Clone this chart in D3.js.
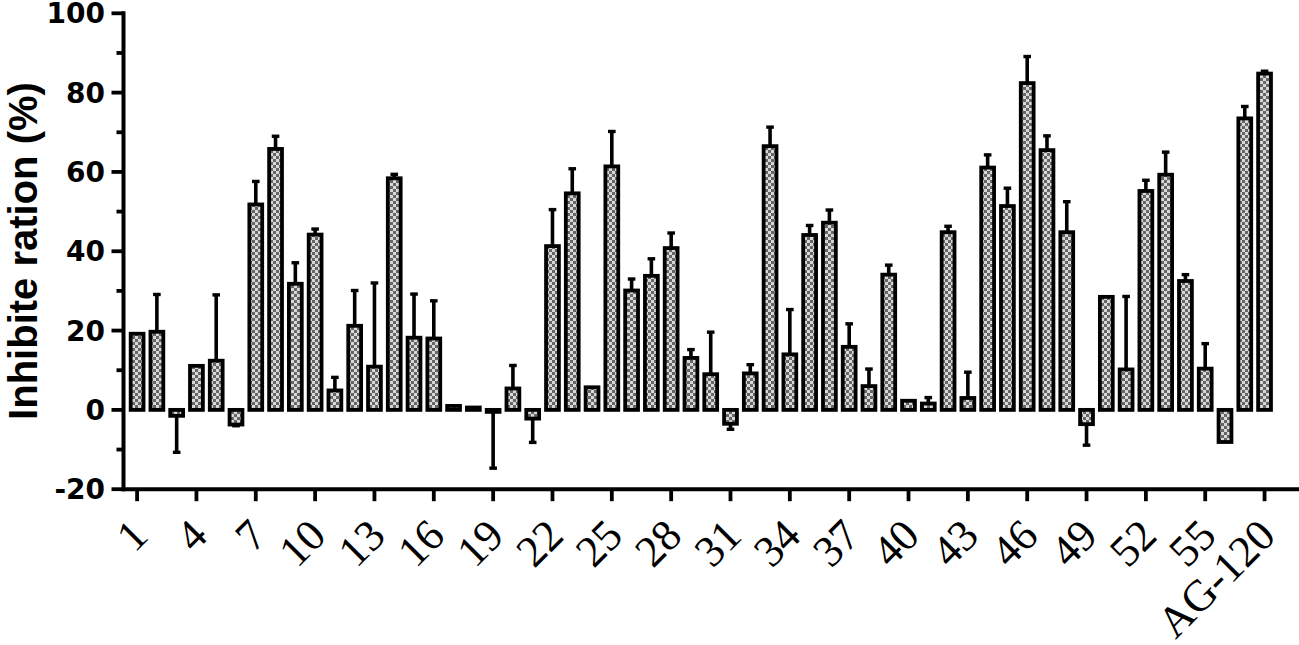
<!DOCTYPE html>
<html>
<head>
<meta charset="utf-8">
<script src="https://cdn.jsdelivr.net/npm/d3@7"></script>
<style>
  html, body { margin: 0; padding: 0; background: #fff; }
  svg { display: block; }
</style>
</head>
<body>
<svg id="chart" width="1299" height="645"></svg>
<script>
// ---- data ----
const categories = [
  "1","2","3","4","5","6","7","8","9","10",
  "11","12","13","14","15","16","17","18","19","20",
  "21","22","23","24","25","26","27","28","29","30",
  "31","32","33","34","35","36","37","38","39","40",
  "41","42","43","44","45","46","47","48","49","50",
  "51","52","53","54","55","56","57","AG-120"
];
const values = [
  19.2, 19.7, -1.5, 11.1, 12.4, -3.7, 51.8, 65.8, 31.8, 44.2,
  4.9, 21.2, 10.9, 58.4, 18.2, 18.0, 1.0, 0.6, -0.5, 5.4,
  -2.2, 41.3, 54.6, 5.7, 61.4, 30.1, 33.8, 40.8, 13.1, 9.0,
  -3.5, 9.2, 66.5, 14.0, 44.1, 47.2, 15.9, 6.0, 34.1, 2.3,
  1.6, 44.8, 3.0, 61.1, 51.4, 82.4, 65.5, 44.8, -3.6, 28.5,
  10.2, 55.2, 59.3, 32.5, 10.4, -8.1, 73.5, 84.8
];
const errors = [
  0, 9.4, 9.2, 0, 16.6, 0.3, 5.8, 3.2, 5.3, 1.4,
  3.3, 8.9, 21.1, 1.0, 11.0, 9.5, 0, 0, 14.2, 5.8,
  6.0, 9.2, 6.2, 0, 8.8, 2.9, 4.3, 3.8, 2.1, 10.6,
  1.4, 2.2, 4.8, 11.3, 2.4, 3.2, 5.8, 4.3, 2.4, 0,
  1.5, 1.5, 6.5, 3.2, 4.5, 6.7, 3.6, 7.7, 5.3, 0,
  18.4, 2.7, 5.7, 1.6, 6.3, 0, 3.0, 0.6
];
const tickLabels = ["1","4","7","10","13","16","19","22","25","28","31","34","37","40","43","46","49","52","55","AG-120"];
const yTicksMajor = [-20, 0, 20, 40, 60, 80, 100];
const yTicksMinor = [-10, 10, 30, 50, 70, 90];
const yTitle = "Inhibite ration (%)";

// ---- layout ----
const svg = d3.select("#chart");
const axisX = 123.5;     // y-axis line position
const step = 19.78;
const bandStart = 137.1 - step / 2;

const x = d3.scaleBand()
  .domain(categories)
  .range([bandStart, bandStart + step * categories.length])
  .paddingInner(0.35)
  .paddingOuter(0.175);

const y = d3.scaleLinear().domain([-20, 100]).range([489.2, 13.3]);

// pattern
const defs = svg.append("defs");
const pat = defs.append("pattern")
  .attr("id", "chk").attr("patternUnits", "userSpaceOnUse")
  .attr("width", 6).attr("height", 6);
pat.append("rect").attr("width", 6).attr("height", 6).attr("fill", "#d8d8d8");
pat.append("rect").attr("x", 0).attr("y", 0).attr("width", 3).attr("height", 3).attr("fill", "#666");
pat.append("rect").attr("x", 3).attr("y", 3).attr("width", 3).attr("height", 3).attr("fill", "#666");

const data = categories.map((c, i) => ({ c, v: values[i], e: errors[i] }));

// bars
svg.append("g").selectAll("rect").data(data).join("rect")
  .attr("x", d => x(d.c))
  .attr("width", x.bandwidth())
  .attr("y", d => y(Math.max(0, d.v)))
  .attr("height", d => Math.max(0.5, Math.abs(y(d.v) - y(0))))
  .attr("fill", "url(#chk)")
  .attr("stroke", "#000")
  .attr("stroke-width", 3.8);

// error bars
const eg = svg.append("g");
data.filter(d => d.e > 0).forEach(d => {
  const cx = x(d.c) + x.bandwidth() / 2;
  const end = d.v >= 0 ? d.v + d.e : d.v - d.e;
  eg.append("line")
    .attr("x1", cx).attr("x2", cx)
    .attr("y1", y(d.v)).attr("y2", y(end))
    .attr("stroke", "#000").attr("stroke-width", 3.6);
  eg.append("line")
    .attr("x1", cx - 3.8).attr("x2", cx + 3.8)
    .attr("y1", y(end)).attr("y2", y(end))
    .attr("stroke", "#000").attr("stroke-width", 3.4);
});

// y axis
const ya = svg.append("g");
ya.append("line").attr("x1", axisX).attr("x2", axisX)
  .attr("y1", y(100) - 2).attr("y2", y(-20) + 2)
  .attr("stroke", "#000").attr("stroke-width", 4);
ya.selectAll("line.maj").data(yTicksMajor).join("line").attr("class", "maj")
  .attr("x1", axisX - 12).attr("x2", axisX)
  .attr("y1", d => y(d)).attr("y2", d => y(d))
  .attr("stroke", "#000").attr("stroke-width", 3.8);
ya.selectAll("line.min").data(yTicksMinor).join("line").attr("class", "min")
  .attr("x1", axisX - 7).attr("x2", axisX)
  .attr("y1", d => y(d)).attr("y2", d => y(d))
  .attr("stroke", "#000").attr("stroke-width", 3.8);
ya.selectAll("text").data(yTicksMajor).join("text")
  .attr("x", 105).attr("y", d => y(d))
  .attr("dy", "0.36em")
  .attr("text-anchor", "end")
  .attr("font-family", "DejaVu Sans")
  .attr("font-weight", "bold")
  .attr("font-size", 28)
  .text(d => d);

// y title
svg.append("text")
  .attr("transform", "translate(37,251) rotate(-90)")
  .attr("text-anchor", "middle")
  .attr("font-family", "Liberation Sans, Arial, sans-serif")
  .attr("font-weight", "bold")
  .attr("font-size", 40)
  .text(yTitle);

// x axis
const xa = svg.append("g");
xa.append("line").attr("x1", axisX - 2).attr("x2", 1299)
  .attr("y1", y(-20)).attr("y2", y(-20))
  .attr("stroke", "#000").attr("stroke-width", 4);
xa.selectAll("line.t").data(tickLabels).join("line").attr("class", "t")
  .attr("x1", d => x(d) + x.bandwidth() / 2).attr("x2", d => x(d) + x.bandwidth() / 2)
  .attr("y1", y(-20)).attr("y2", y(-20) + 12)
  .attr("stroke", "#000").attr("stroke-width", 3.8);
xa.selectAll("text").data(tickLabels).join("text")
  .attr("transform", d => `translate(${x(d) + x.bandwidth() / 2 + 13},538) rotate(-45)`)
  .attr("text-anchor", "end")
  .attr("font-family", "Liberation Serif, 'Times New Roman', serif")
  .attr("font-size", 44)
  .text(d => d);
</script>
</body>
</html>
